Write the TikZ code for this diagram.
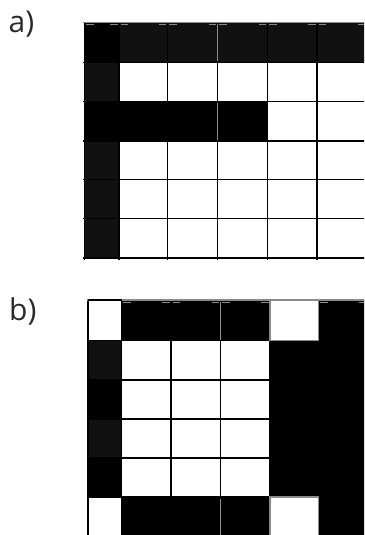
\documentclass[tikz,border=0pt]{standalone}
\usepackage{fontspec}
\setmainfont{Open Sans}
\definecolor{nearblack}{HTML}{111111}
\definecolor{tickgray}{HTML}{8A8A8A}
\definecolor{labelgray}{HTML}{2A2A2A}
\begin{document}
\begin{tikzpicture}[x=1pt,y=-1pt,
  gridline/.style={line width=1.2pt,black},
  softline/.style={line width=1.2pt,tickgray},
  topdash/.style={line width=1.3pt,tickgray},
  panellabel/.style={font=\fontsize{30}{30}\selectfont,text=labelgray,inner sep=0pt,anchor=base west}]
\useasboundingbox (0,0) rectangle (364,535);
\begin{scope}
\clip (0,0) rectangle (364,535);
% ---------------- grid a ----------------
% columns: 84.5,119,167.5,217.5,267.5,317,366.5 ; rows: 22.5,62.5,101.5,141,179.5,218.5,258
\fill[nearblack] (84.5,22.5) rectangle (366.5,62.5);
\fill[black] (84.5,22.5) rectangle (119,62.5);
\fill[nearblack] (84.5,62.5) rectangle (119,258);
\fill[black] (84.5,101.5) rectangle (267.5,141);
\foreach \y in {62.5,101.5,141,179.5,218.5,258}
  \draw[gridline] (83,\y) -- (366,\y);
\foreach \x in {84.5,119,167.5,217.5,267.5,317}
  \draw[gridline] (\x,22.5) -- (\x,260);
\draw[softline] (217.5,24) -- (217.5,61.5);
\draw[softline] (217.5,103) -- (217.5,140);
\draw[softline] (83,22.5) -- (366,22.5);
\foreach \a/\b in {84.5/119,119/167.5,167.5/217.5,217.5/267.5,267.5/317,317/366.5}{
  \draw[topdash] (\a+1.5,24.8) -- (\a+9,24.8);
  \draw[topdash] (\b-9,24.8) -- (\b-1.5,24.8);
}
% ---------------- grid b ----------------
% columns: 88,121.5,171,220.5,270,318.5,368 ; rows: 300,340.5,380,419,458,497,536
\fill[black] (121.5,300) rectangle (270,340.5);
\fill[black] (318.5,300) rectangle (368,536);
\fill[black] (270,340.5) rectangle (318.5,497);
\fill[black] (88,340.5) rectangle (121.5,497);
\fill[nearblack] (88,340.5) rectangle (121.5,380);
\fill[nearblack] (88,419) rectangle (121.5,458);
\fill[black] (121.5,497) rectangle (270,536);
\foreach \y in {340.5,380,419,458,497}
  \draw[gridline] (86.5,\y) -- (270,\y);
\foreach \x in {88,121.5,171,220.5,270}
  \draw[gridline] (\x,300) -- (\x,536);
\draw[softline] (220.5,301.5) -- (220.5,339.5);
\draw[softline] (220.5,498.5) -- (220.5,536);
\draw[softline] (270,300) rectangle (318.5,340.5);
\draw[softline] (270,497) rectangle (318.5,536);
\draw[softline] (86.5,300) -- (366,300);
\draw[gridline] (88,300) -- (121.5,300);
\foreach \a/\b in {121.5/171,171/220.5,220.5/270,318.5/368}{
  \draw[topdash] (\a+1.5,302.3) -- (\a+9,302.3);
  \draw[topdash] (\b-9,302.3) -- (\b-1.5,302.3);
}
\end{scope}
% ---------------- labels ----------------
\node[panellabel] (labela) at (8.5,33) {a)};
\node[panellabel] (labelb) at (9,320) {b)};
\end{tikzpicture}
\end{document}
